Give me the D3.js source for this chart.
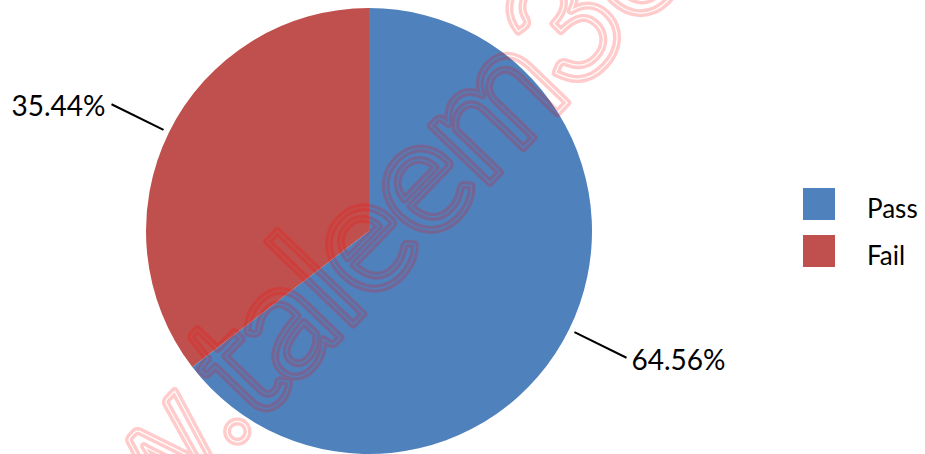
<!DOCTYPE html>
<html><head><meta charset="utf-8">
<script src="https://cdn.jsdelivr.net/npm/d3@7"></script>
<style>html,body{margin:0;padding:0;background:#fff;}svg{display:block;}</style>
</head><body>
<svg id="chart" width="925" height="454"></svg>
<script>
const categories = ["Pass", "Fail"];
const values = [64.56, 35.44];
const valueLabels = ["64.56%", "35.44%"];
const colors = ["#4F81BD", "#C0504D"];
const watermark = "www.taleem360.com";

const W = 925, H = 454;
const svg = d3.select("#chart");
const cx = 369, cy = 231, R = 223;

const pie = d3.pie().sort(null).value(d => d)(values);
const arc = d3.arc().innerRadius(0).outerRadius(R);
const g = svg.append("g").attr("transform", `translate(${cx},${cy})`);
g.selectAll("path.slice").data(pie).join("path")
  .attr("class", "slice").attr("d", arc)
  .attr("fill", (d, i) => colors[i]);

const lineInner = d3.arc().innerRadius(R + 6).outerRadius(R + 6);
const lineOuter = d3.arc().innerRadius(R + 64).outerRadius(R + 64);
pie.forEach((d, i) => {
  const p1 = lineInner.centroid(d), p2 = lineOuter.centroid(d);
  g.append("line").attr("x1", p1[0]).attr("y1", p1[1]).attr("x2", p2[0]).attr("y2", p2[1])
    .attr("stroke", "#000").attr("stroke-width", 2);
  const right = p2[0] > 0;
  g.append("text").attr("x", p2[0] + (right ? 5 : -6)).attr("y", p2[1] + 12)
    .attr("text-anchor", right ? "start" : "end")
    .attr("font-family", "Lato, sans-serif").attr("font-size", 28).attr("fill", "#000")
    .text(valueLabels[i]);
});

const legend = svg.append("g").attr("transform", "translate(803,188)");
categories.forEach((c, i) => {
  legend.append("rect").attr("x", 0).attr("y", i * 47).attr("width", 32).attr("height", 32).attr("fill", colors[i]);
  legend.append("text").attr("x", 64).attr("y", i * 47 + 30)
    .attr("font-family", "Lato, sans-serif").attr("font-size", 26).attr("fill", "#000").text(c);
});

// watermark (outlined, translucent)
const wmSize = 162, wmAngle = -46, wmSpacing = -4;
const ctx = document.createElement("canvas").getContext("2d");
ctx.font = `${wmSize}px Lato`;
const offset = ctx.measureText(watermark.slice(0, 6)).width + 6 * wmSpacing;
const anchor = [345, 333];
const defs = svg.append("defs");
const mask = defs.append("mask").attr("id", "wm").attr("maskUnits", "userSpaceOnUse")
  .attr("x", 0).attr("y", 0).attr("width", W).attr("height", H);
const mg = mask.append("g")
  .attr("transform", `translate(${anchor[0]},${anchor[1]}) rotate(${wmAngle}) translate(${-offset},0)`);
[["#fff", 8], ["#000", 1.2]].forEach(([col, sw]) => {
  mg.append("text").attr("x", 0).attr("y", 0)
    .attr("font-family", "Lato, sans-serif").attr("font-size", wmSize)
    .attr("letter-spacing", wmSpacing)
    .attr("fill", "none").attr("stroke", col).attr("stroke-width", sw)
    .attr("stroke-linejoin", "round").text(watermark);
});
svg.append("rect").attr("width", W).attr("height", H).attr("fill", "rgb(255,0,0)")
  .attr("opacity", 0.2).attr("mask", "url(#wm)");
</script>
</body></html>
